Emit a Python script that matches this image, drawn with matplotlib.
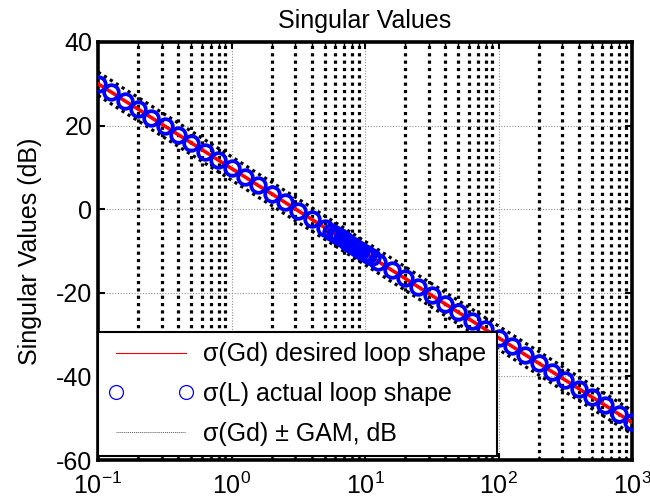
import matplotlib
matplotlib.use("Agg")
import matplotlib.pyplot as plt
from matplotlib.lines import Line2D
from matplotlib.ticker import LogLocator, FixedLocator

plt.rcParams['font.family'] = ['Liberation Sans', 'DejaVu Sans']
plt.rcParams['mathtext.fontset'] = 'custom'
plt.rcParams['mathtext.rm'] = 'Liberation Sans'
plt.rcParams['mathtext.it'] = 'Liberation Sans:italic'
plt.rcParams['axes.unicode_minus'] = False

# ---- data ----
w_gd = [0.1, 0.126, 0.158, 0.2, 0.251, 0.316, 0.398, 0.501, 0.631, 0.794,
        1.0, 1.26, 1.58, 2.0, 2.51, 3.16, 3.98, 5.01, 6.31, 7.94,
        10.0, 12.6, 15.8, 20.0, 25.1, 31.6, 39.8, 50.1, 63.1, 79.4,
        100.0, 126.0, 158.0, 200.0, 251.0, 316.0, 398.0, 501.0, 631.0, 794.0, 1000.0]
gd_db = [30.00, 27.98, 25.95, 23.93, 21.90, 19.88, 17.85, 15.83, 13.80, 11.78,
         9.75, 7.73, 5.70, 3.68, 1.65, -0.38, -2.40, -4.43, -6.45, -8.48,
         -10.50, -12.53, -14.55, -16.58, -18.60, -20.63, -22.65, -24.68, -26.70, -28.73,
         -30.75, -32.78, -34.80, -36.83, -38.85, -40.88, -42.90, -44.93, -46.95, -48.98, -51.00]
w_l = [0.1, 0.126, 0.158, 0.2, 0.251, 0.316, 0.398, 0.501, 0.631, 0.794,
       1.0, 1.26, 1.58, 2.0, 2.51, 3.16, 3.98, 5.01, 5.6, 6.0, 6.31, 6.7, 7.1, 7.5, 7.94,
       8.4, 8.9, 9.4, 10.0, 10.6, 11.2, 12.6, 15.8, 20.0, 25.1, 31.6, 39.8, 50.1, 63.1, 79.4,
       100.0, 126.0, 158.0, 200.0, 251.0, 316.0, 398.0, 501.0, 631.0, 794.0, 1000.0]
l_db = [30.00, 27.98, 25.95, 23.93, 21.90, 19.88, 17.85, 15.83, 13.80, 11.78,
        9.75, 7.73, 5.70, 3.68, 1.65, -0.38, -2.40, -4.43, -5.40, -6.00, -6.45, -6.98, -7.48, -7.97, -8.48,
        -8.96, -9.47, -9.95, -10.50, -11.01, -11.50, -12.53, -14.55, -16.58, -18.60, -20.63, -22.65, -24.68, -26.70, -28.73,
        -30.75, -32.78, -34.80, -36.83, -38.85, -40.88, -42.90, -44.93, -46.95, -48.98, -51.00]
gam_db = 2.8
gd_upper = [v + gam_db for v in gd_db]
gd_lower = [v - gam_db for v in gd_db]

x_ticks = [0.1, 1, 10, 100, 1000]
y_ticks = [-60, -40, -20, 0, 20, 40]
labels = ['\u03c3(Gd) desired loop shape', '\u03c3(L) actual loop shape', '\u03c3(Gd) \u00b1 GAM, dB']

FS = 18

fig = plt.figure(figsize=(6.5, 5.04), dpi=100)
ax = fig.add_axes([0.1508, 0.0873, 0.8215, 0.8294])

ax.set_xscale('log')
ax.set_xlim(0.1, 1000)
ax.set_ylim(-60, 40)
ax.xaxis.set_major_locator(FixedLocator(x_ticks))
ax.xaxis.set_minor_locator(LogLocator(base=10, subs=range(2, 10), numticks=20))
ax.set_yticks(y_ticks)
ax.set_yticklabels([str(t) for t in y_ticks])

# grids
ax.grid(True, which='major', color='#909090', linestyle=(0, (1, 1.5)), linewidth=0.8, zorder=0)
ax.grid(True, which='minor', axis='x', color='black', linestyle=(0, (1, 1.3)), linewidth=2.3, zorder=0)
ax.set_axisbelow(True)

ax.plot(w_gd, gd_upper, color='black', linestyle=(0, (1, 1.2)), linewidth=2.3, zorder=2)
ax.plot(w_gd, gd_lower, color='black', linestyle=(0, (1, 1.2)), linewidth=2.3, zorder=2)
ax.plot(w_gd, gd_db, color='red', linewidth=2.6, zorder=3)
ax.plot(w_l, l_db, linestyle='none', marker='o', markersize=10.5, markerfacecolor='none',
        markeredgecolor='#0000ff', markeredgewidth=2.7, zorder=4)

for s in ax.spines.values():
    s.set_linewidth(2.6)
ax.tick_params(which='both', direction='in', top=True, right=True, labelsize=FS)
ax.tick_params(axis='y', pad=4)
ax.tick_params(axis='x', pad=9)
ax.tick_params(which='major', length=5, width=1.5)
ax.tick_params(which='minor', length=3, width=1.0)

ax.set_title('Singular Values', fontsize=FS, pad=10)
ax.set_ylabel('Singular Values (dB)', fontsize=FS, labelpad=10)

handles = [
    Line2D([], [], color='red', linewidth=0.8),
    Line2D([], [], linestyle='none', marker='o', markersize=10, markerfacecolor='none',
           markeredgecolor='#0000ff', markeredgewidth=0.9),
    Line2D([], [], color='#555555', linestyle=(0, (1, 1)), linewidth=0.7),
]
leg = ax.legend(handles, labels, loc='lower left', bbox_to_anchor=(0.0, 0.0096, 0.747, 0.297),
                mode='expand', borderaxespad=0, fontsize=FS, numpoints=2, handlelength=3.4,
                handletextpad=0.4, labelspacing=0.63, borderpad=0.4, fancybox=False,
                framealpha=1, edgecolor='black')
leg.get_frame().set_linewidth(1.5)
leg.set_zorder(10)

fig.savefig('out.png', dpi=100)
